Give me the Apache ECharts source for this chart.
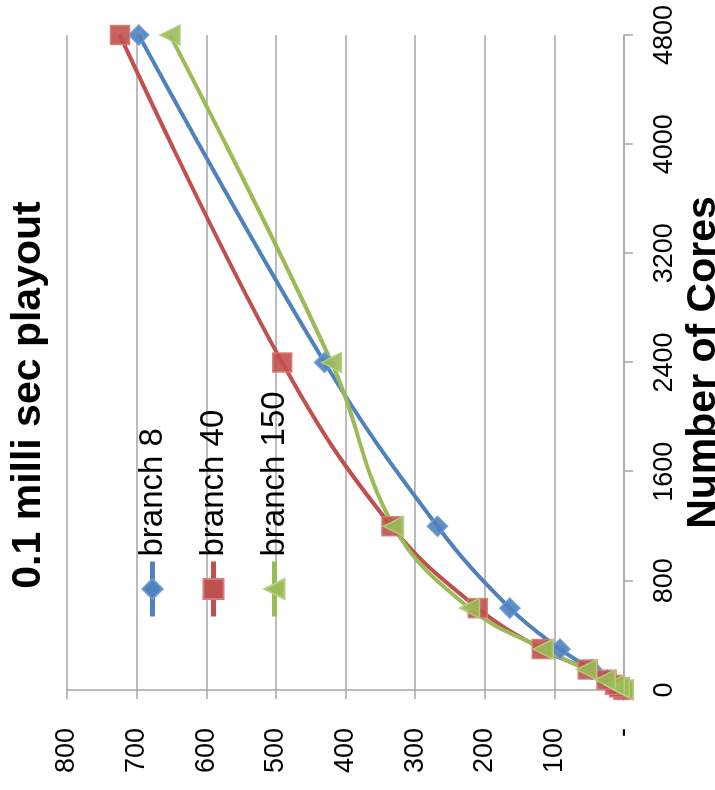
<!DOCTYPE html>
<html>
<head>
<meta charset="utf-8">
<script src="https://cdn.jsdelivr.net/npm/echarts@6/dist/echarts.min.js"></script>
<style>
  html, body { margin: 0; padding: 0; width: 715px; height: 790px; overflow: hidden; background: #fff; }
  /* The chart is laid out landscape and turned a quarter turn counter-clockwise */
  #chart {
    position: absolute; left: 0; top: 0;
    width: 790px; height: 715px;
    transform-origin: 0 0;
    transform: translate(0, 790px) rotate(-90deg);
  }
</style>
</head>
<body>
<div id="chart"></div>
<script>
// Number of cores used in each run
const cores = [1, 19, 38, 75, 150, 300, 600, 1200, 2400, 4800];
// Speedup per branching factor
const branch8   = [1, 6, 12, 24, 46, 92, 164, 268, 430, 697];
const branch40  = [1, 7, 13, 25, 52, 118, 210, 334, 491, 724];
const branch150 = [1, 7, 14, 27, 54, 116, 222, 331, 420, 652];
// Axis ranges / tick steps
const coreAxis = { min: 0, max: 4800, step: 800 };
const speedAxis = { min: 0, max: 800, step: 100 };
const zeroLabel = '-';

const FONT = 'Liberation Sans, Arial, sans-serif';
const GRID_GRAY = '#a6a6a6';

function lineSeries(name, values, color, border, symbol, size) {
  return {
    name: name,
    type: 'line',
    data: cores.map((c, i) => [c, values[i]]),
    smooth: 0.4,
    symbol: symbol,
    symbolSize: size,
    lineStyle: { color: color, width: 4 },
    itemStyle: { color: color, borderColor: border, borderWidth: 1.5, opacity: 0.9 },
    emphasis: { disabled: true }
  };
}

const chart = echarts.init(document.getElementById('chart'), null, { renderer: 'canvas' });
chart.setOption({
  animation: false,
  backgroundColor: '#fff',
  title: {
    text: '0.1 milli sec playout',
    left: 'center',
    top: 3,
    textStyle: { fontFamily: FONT, fontSize: 41, fontWeight: 'bold', color: '#000' }
  },
  legend: {
    orient: 'vertical',
    left: 166,
    top: 131,
    itemWidth: 55,
    itemHeight: 25,
    itemGap: 28,
    lineStyle: { width: 5 },
    itemStyle: { opacity: 1 },
    textStyle: { fontFamily: FONT, fontSize: 33, color: '#000' },
    data: ['branch 8', 'branch 40', 'branch 150']
  },
  grid: { left: 100, right: 35, top: 67, bottom: 91, outerBoundsMode: 'none' },
  xAxis: {
    type: 'value',
    min: coreAxis.min, max: coreAxis.max, interval: coreAxis.step,
    name: 'Number of Cores',
    nameLocation: 'middle',
    nameGap: 52,
    nameTextStyle: { fontFamily: FONT, fontSize: 41, fontWeight: 'bold', color: '#000' },
    axisLine: { show: true, lineStyle: { color: GRID_GRAY, width: 1.5 } },
    axisTick: { show: true, length: 9, lineStyle: { color: GRID_GRAY, width: 1.5 } },
    axisLabel: {
      fontFamily: FONT, fontSize: 27, color: '#000', margin: 27,
      formatter: v => String(v)
    },
    splitLine: { show: false }
  },
  yAxis: {
    type: 'value',
    min: speedAxis.min, max: speedAxis.max, interval: speedAxis.step,
    axisLine: { show: true, lineStyle: { color: GRID_GRAY, width: 1.5 } },
    axisTick: { show: true, length: 9, lineStyle: { color: GRID_GRAY, width: 1.5 } },
    axisLabel: {
      fontFamily: FONT, fontSize: 27, color: '#000', margin: 38,
      formatter: v => (v === 0 ? zeroLabel : String(v))
    },
    splitLine: { show: true, lineStyle: { color: GRID_GRAY, width: 1.5 } }
  },
  series: [
    lineSeries('branch 8', branch8, '#4f81bd', '#6a9ad6', 'diamond', 20),
    lineSeries('branch 40', branch40, '#c0504d', '#d77a77', 'rect', 19),
    lineSeries('branch 150', branch150, '#9bbb59', '#b3cf7a', 'triangle', 20)
  ]
});
</script>
</body>
</html>
